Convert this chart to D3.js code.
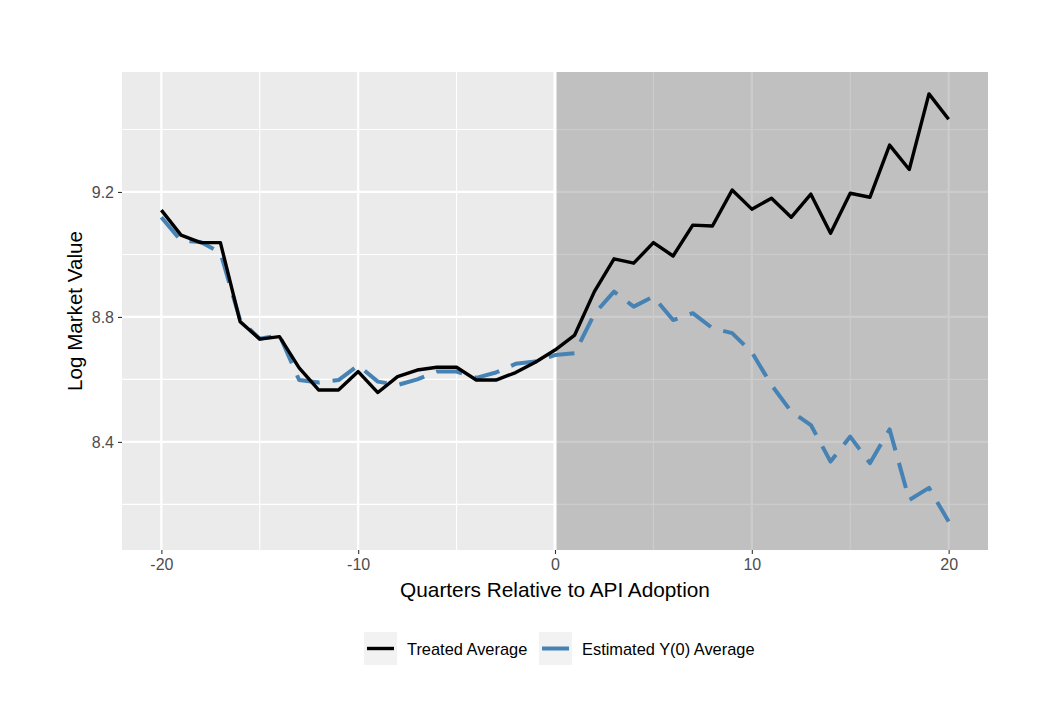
<!DOCTYPE html>
<html>
<head>
<meta charset="utf-8">
<script src="https://cdn.jsdelivr.net/npm/d3@7"></script>
<style>
  html, body { margin: 0; padding: 0; background: #fff; }
  svg { display: block; font-family: "Liberation Sans", Arial, sans-serif; }
</style>
</head>
<body>
<svg id="chart" width="1060" height="702"></svg>
<script>
// ---- data ----
const quarters = d3.range(-20, 21);
const treatedAverage = [
  9.142, 9.062, 9.038, 9.038, 8.785, 8.729, 8.737, 8.637, 8.566, 8.566,
  8.625, 8.558, 8.609, 8.630, 8.639, 8.639, 8.598, 8.598, 8.622, 8.655,
  8.694, 8.742, 8.881, 8.986, 8.972, 9.038, 8.995, 9.094, 9.091, 9.206,
  9.145, 9.180, 9.119, 9.193, 9.068, 9.196, 9.183, 9.350, 9.272, 9.514,
  9.433
];
const estimatedY0 = [
  9.119, 9.044, 9.040, 9.006, 8.790, 8.730, 8.742, 8.598, 8.590, 8.598,
  8.645, 8.593, 8.582, 8.600, 8.625, 8.625, 8.605, 8.622, 8.650, 8.657,
  8.678, 8.684, 8.810, 8.881, 8.833, 8.865, 8.790, 8.812, 8.764, 8.748,
  8.687, 8.582, 8.497, 8.454, 8.337, 8.417, 8.332, 8.440, 8.214, 8.253,
  8.145
];
const xTicks = [-20, -10, 0, 10, 20];
const xMinor = [-15, -5, 5, 15];
const yTicks = [8.4, 8.8, 9.2];
const yMinor = [8.2, 8.6, 9.0, 9.4];
const seriesNames = ["Treated Average", "Estimated Y(0) Average"];

// ---- layout ----
const svg = d3.select("#chart");
const L = 122, R = 988, T = 72, B = 550;
const x = d3.scaleLinear().domain([-22, 22]).range([L, R]);
const y = d3.scaleLinear().domain([8.054, 9.584]).range([B, T]);

// panel background
svg.append("rect").attr("x", L).attr("y", T).attr("width", R - L).attr("height", B - T)
  .attr("fill", "#ebebeb");

const grid = svg.append("g");
yMinor.forEach(v => grid.append("line").attr("x1", L).attr("x2", R)
  .attr("y1", y(v)).attr("y2", y(v)).attr("stroke", "#fff").attr("stroke-width", 1.1));
xMinor.forEach(v => grid.append("line").attr("y1", T).attr("y2", B)
  .attr("x1", x(v)).attr("x2", x(v)).attr("stroke", "#fff").attr("stroke-width", 1.1));
yTicks.forEach(v => grid.append("line").attr("x1", L).attr("x2", R)
  .attr("y1", y(v)).attr("y2", y(v)).attr("stroke", "#fff").attr("stroke-width", 2.2));
xTicks.forEach(v => grid.append("line").attr("y1", T).attr("y2", B)
  .attr("x1", x(v)).attr("x2", x(v)).attr("stroke", "#fff").attr("stroke-width", 2.2));

// shaded post-adoption region
svg.append("rect").attr("x", x(0)).attr("y", T).attr("width", R - x(0)).attr("height", B - T)
  .attr("fill", "#808080").attr("fill-opacity", 0.4);

// vertical line at 0
svg.append("line").attr("x1", x(0)).attr("x2", x(0)).attr("y1", T).attr("y2", B)
  .attr("stroke", "#fff").attr("stroke-width", 3);

// lines
const line = d3.line().x((d, i) => x(quarters[i])).y(d => y(d));
svg.append("path").datum(estimatedY0).attr("d", line)
  .attr("fill", "none").attr("stroke", "#4682b4").attr("stroke-width", 4)
  .attr("stroke-dasharray", "26,13").attr("stroke-linejoin", "round");
svg.append("path").datum(treatedAverage).attr("d", line)
  .attr("fill", "none").attr("stroke", "#000").attr("stroke-width", 3.4)
  .attr("stroke-linejoin", "round");

// axes
const xAxis = svg.append("g").attr("transform", `translate(0,${B})`)
  .call(d3.axisBottom(x).tickValues(xTicks).tickSize(4).tickPadding(5).tickFormat(d3.format("d")));
const yAxis = svg.append("g").attr("transform", `translate(${L},0)`)
  .call(d3.axisLeft(y).tickValues(yTicks).tickSize(4).tickPadding(4).tickFormat(d3.format(".1f")));
[xAxis, yAxis].forEach(a => {
  a.select(".domain").remove();
  a.selectAll(".tick line").attr("stroke", "#333").attr("stroke-width", 1.1);
  a.selectAll(".tick text").attr("fill", "#4d4d4d").attr("font-size", "16px")
    .attr("font-family", "Liberation Sans, Arial, sans-serif");
});
xAxis.selectAll(".tick text").text(d => d < 0 ? "-" + Math.abs(d) : d);

// axis titles
svg.append("text").attr("x", (L + R) / 2).attr("y", 597).attr("text-anchor", "middle")
  .attr("font-size", "20.8px").attr("fill", "#000").text("Quarters Relative to API Adoption");
svg.append("text").attr("transform", `translate(82,${(T + B) / 2}) rotate(-90)`)
  .attr("text-anchor", "middle").attr("font-size", "20.6px").attr("fill", "#000")
  .text("Log Market Value");

// legend
const legend = svg.append("g");
const keys = [
  { name: seriesNames[0], x: 364, tx: 407, color: "#000", w: 3.4 },
  { name: seriesNames[1], x: 539, tx: 582, color: "#4682b4", w: 4 }
];
keys.forEach(k => {
  legend.append("rect").attr("x", k.x).attr("y", 632).attr("width", 33).attr("height", 33)
    .attr("fill", "#f2f2f2");
  legend.append("line").attr("x1", k.x + 3).attr("x2", k.x + 30).attr("y1", 648.5).attr("y2", 648.5)
    .attr("stroke", k.color).attr("stroke-width", k.w);
  legend.append("text").attr("x", k.tx).attr("y", 654.5).attr("font-size", "16.4px")
    .attr("fill", "#000").text(k.name);
});
</script>
</body>
</html>
